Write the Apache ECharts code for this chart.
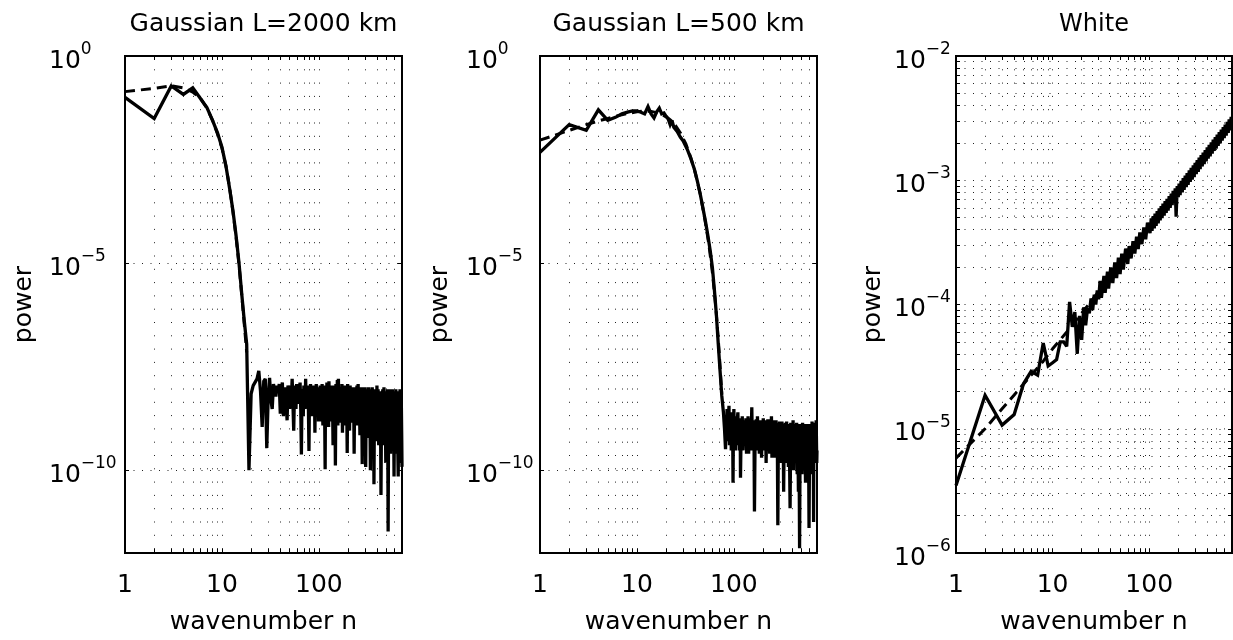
<!DOCTYPE html>
<html>
<head>
<meta charset="utf-8">
<title>Power spectra</title>
<script src="https://cdn.jsdelivr.net/npm/echarts@6/dist/echarts.min.js"></script>
<style>
  html, body { margin: 0; padding: 0; background: #fff; }
  #chart { width: 1233px; height: 640px; }
</style>
</head>
<body>
<div id="chart"></div>
<script>
// wavenumber axis: grid / tick positions and labelled ticks
var wavenumberTicks = [1, 2, 3, 4, 5, 6, 7, 8, 9, 10, 20, 30, 40, 50, 60, 70, 80, 90, 100, 200, 300, 400, 500, 600, 700];
var wavenumberLabels = [1, 10, 100];
var nMax = 720;

// power axis ticks
var wideTicks = [1, 1e-5, 1e-10];
var whiteTicks = [1e-2, 9e-3, 8e-3, 7e-3, 6e-3, 5e-3, 4e-3, 3e-3, 2e-3,
  1e-3, 9e-4, 8e-4, 7e-4, 6e-4, 5e-4, 4e-4, 3e-4, 2e-4,
  1e-4, 9e-5, 8e-5, 7e-5, 6e-5, 5e-5, 4e-5, 3e-5, 2e-5,
  1e-5, 9e-6, 8e-6, 7e-6, 6e-6, 5e-6, 4e-6, 3e-6, 2e-6, 1e-6];
var whiteLabels = [1e-2, 1e-3, 1e-4, 1e-5, 1e-6];

// Gaussian L=2000 km : [n, power]
var g2000Spectrum = [
  [1, 0.1], [2, 0.031], [3, 0.19], [4, 0.118], [5, 0.17], [6, 0.094], [7, 0.057], [8, 0.028],
  [9, 0.014], [10, 6.3e-3], [11, 2.2e-3], [12, 6.3e-4], [13, 1.8e-4], [14, 4.5e-5], [15, 1e-5],
  [16, 1.8e-6], [17, 4e-7], [18, 1.1e-7], [19, 1e-10], [20, 7e-9], [21, 1.1e-8], [22, 1.2e-8],
  [23, 1.6e-8], [24, 2.5e-8], [25, 8e-9], [26, 1.1e-9], [27, 1.4e-8], [28, 1.6e-8], [29, 3.4e-10],
  [30, 6e-9], [31, 1.7e-8], [32, 5e-9], [33, 3e-9], [34, 1.2e-8], [35, 1.3e-8], [36, 6e-9],
  [37, 1.1e-8], [38, 8e-9], [39, 1.2e-8], [40, 2.3e-9], [41, 9e-9], [42, 1.3e-8], [43, 2e-9], [44, 7e-9],
  [45, 1e-8], [46, 4e-9], [47, 1.6e-9], [48, 1.1e-8], [49, 9e-9], [50, 3e-9], [51, 1.1e-8], [52, 5e-9],
  [53, 1.6e-8], [54, 4e-9], [55, 9e-10], [56, 8e-9], [57, 1.1e-8], [58, 3e-9], [59, 1.2e-8], [60, 4e-9],
  [61, 1e-8], [62, 6e-9], [63, 1e-8], [64, 1.3e-8], [65, 3e-9], [66, 2.4e-10], [67, 9e-9], [68, 8e-9],
  [69, 2e-9], [70, 1.1e-8], [71, 5e-9], [72, 3e-9], [73, 1.6e-8], [74, 4e-9], [75, 1e-8], [76, 5e-9],
  [77, 1.1e-8], [78, 3e-9], [79, 2.9e-10], [80, 8e-9], [81, 2e-9], [82, 1.2e-8], [83, 2e-9], [84, 9e-9],
  [85, 3e-9], [86, 1e-8], [87, 4e-9], [88, 1.1e-8], [89, 2e-9], [90, 9e-9], [91, 8e-10], [92, 9e-9],
  [93, 3e-9], [94, 1.2e-8], [95, 2e-9], [96, 9e-9], [97, 4e-9], [98, 1e-8], [99, 1.5e-9],
  [100, 1e-8], [101, 2e-9], [103, 1.1e-8], [104, 1.5e-9], [105, 9e-9], [107, 2.5e-9], [108, 1.2e-8],
  [110, 1.2e-9], [111, 8e-9], [113, 2e-9], [114, 1.1e-8], [116, 1.05e-10], [117, 9e-9], [119, 1.8e-9],
  [121, 1.3e-8], [122, 2.5e-9], [124, 1e-8], [126, 1.1e-9], [127, 1.4e-8], [129, 2e-9], [131, 9e-9],
  [133, 1.5e-9], [135, 1.1e-8], [136, 3e-9], [138, 8e-9], [140, 4e-10], [142, 1.1e-8], [144, 1.8e-9],
  [146, 1e-8], [148, 1.3e-10], [150, 1.2e-8], [153, 2e-9], [155, 1.5e-8], [157, 1.2e-9], [159, 1.6e-8],
  [161, 2.5e-9], [163, 9e-9], [166, 1.4e-9], [168, 1e-8], [170, 2e-9], [173, 1.2e-8], [175, 8e-10],
  [178, 9e-9], [180, 1.6e-9], [183, 1.1e-8], [185, 2.2e-9], [188, 9e-9], [190, 1.2e-9], [193, 1e-8],
  [196, 2.6e-10], [198, 1.2e-8], [201, 1.8e-9], [204, 1e-8], [207, 9e-10], [210, 1.1e-8], [212, 2e-9],
  [215, 9e-9], [218, 1.4e-9], [221, 1e-8], [224, 2.5e-9], [228, 8e-9], [231, 2.5e-10], [234, 1e-8],
  [237, 1.6e-9], [240, 9e-9], [244, 2e-9], [247, 1.1e-8], [251, 1.2e-9], [254, 1.2e-8], [258, 1.8e-9],
  [261, 9e-9], [265, 7e-10], [268, 1e-8], [272, 1.5e-9], [276, 8e-9], [280, 1.4e-10], [284, 1e-8],
  [288, 1.3e-9], [292, 9e-9], [296, 2e-9], [300, 1e-8], [304, 1.2e-10], [308, 9e-9], [313, 1.1e-9],
  [317, 8e-9], [322, 6e-10], [326, 1e-8], [331, 1.5e-9], [335, 9e-9], [340, 1e-10], [345, 8e-9],
  [350, 1e-9], [355, 1e-8], [360, 5e-10], [365, 9e-9], [370, 4.6e-11], [375, 8e-9], [380, 1.2e-9],
  [386, 9e-9], [391, 5e-10], [397, 1.1e-8], [402, 8e-10], [408, 9e-9], [414, 4e-10], [419, 8e-9],
  [425, 1.2e-9], [431, 7e-9], [437, 2.5e-11], [444, 8e-9], [450, 6e-10], [456, 9e-9], [463, 4e-10],
  [469, 1e-8], [476, 9e-10], [483, 8e-9], [490, 1.5e-10], [497, 8e-9], [504, 6e-10], [511, 9e-9],
  [518, 3.3e-12], [525, 8e-9], [533, 8e-10], [540, 9e-9], [548, 2.5e-10], [556, 8e-9], [564, 7e-10],
  [572, 9e-9], [580, 4e-10], [588, 7e-9], [596, 7e-11], [605, 8e-9], [613, 5e-10], [622, 9e-9],
  [631, 2.5e-10], [640, 8e-9], [649, 6e-10], [658, 7e-11], [668, 8e-9], [677, 4e-10], [687, 9e-9],
  [697, 1.5e-10], [706, 9e-9], [716, 5e-10], [720, 1.2e-10]
];
var g2000Model = [
  [1, 0.138], [2, 0.165], [3, 0.19], [4, 0.17], [5, 0.135], [6, 0.095], [7, 0.055], [8, 0.028],
  [9, 0.013], [10, 6e-3], [11, 2.2e-3], [12, 6.6e-4], [13, 1.7e-4], [14, 4.2e-5], [15, 9e-6],
  [16, 1.7e-6], [17, 3.3e-7], [18, 7e-8]
];

// Gaussian L=500 km
var g500Spectrum = [
  [1, 4.7e-3], [2, 0.022], [3, 0.016], [4, 0.05], [5, 0.028], [6, 0.033], [7, 0.04], [8, 0.044],
  [9, 0.047], [10, 0.047], [11, 0.044], [12, 0.04], [13, 0.06], [14, 0.04], [15, 0.032], [16, 0.045],
  [17, 0.055], [18, 0.04], [19, 0.042], [20, 0.035], [21, 0.03], [22, 0.022], [23, 0.028], [24, 0.019],
  [25, 0.02], [26, 0.015], [28, 0.011], [30, 8.9e-3], [33, 5.6e-3], [36, 3.3e-3], [39, 1.9e-3],
  [42, 9.5e-4], [45, 4.6e-4], [48, 2.1e-4], [51, 1e-4], [54, 4.5e-5], [57, 2e-5], [60, 7.9e-6],
  [63, 2.2e-6], [66, 5.6e-7], [69, 1.1e-7], [72, 2.5e-8], [75, 6.3e-9], [78, 2.5e-9], [80, 1e-9],
  [82, 3.2e-10], [83, 1.5e-9], [84, 5e-10], [85, 3e-9], [86, 8e-10], [87, 6e-10], [88, 2e-9], [89, 3.6e-9],
  [90, 4e-10], [91, 8e-10], [92, 1.6e-9], [93, 2.5e-9], [94, 3e-10], [95, 4e-10], [96, 1.5e-9],
  [97, 1.8e-9], [98, 5e-11], [99, 1.4e-9],
  [100, 3e-9], [101, 5e-10], [103, 1.8e-9], [104, 3e-10], [105, 2e-9], [107, 4e-10], [108, 1.5e-9],
  [110, 2.5e-9], [111, 6e-10], [113, 1.6e-9], [114, 3e-10], [116, 1.8e-9], [117, 6.6e-11], [119, 1.5e-9],
  [121, 4e-10], [122, 2e-9], [124, 3e-10], [126, 1.4e-9], [127, 5e-10], [129, 1.6e-9], [131, 4e-10],
  [133, 1.8e-9], [135, 2.5e-10], [136, 1.5e-9], [138, 5e-10], [140, 2e-9], [142, 2.5e-10], [144, 1.4e-9],
  [146, 6e-10], [148, 1.8e-9], [150, 3e-10], [153, 3.3e-9], [155, 5e-10], [157, 1.5e-9], [159, 3e-10],
  [161, 1.6e-9], [163, 1e-11], [166, 1.5e-9], [168, 4e-10], [170, 1.7e-9], [173, 3e-10], [175, 2e-9],
  [178, 4e-10], [180, 1.4e-9], [183, 2.5e-10], [185, 1.6e-9], [188, 5e-10], [190, 1.5e-9], [193, 2e-10],
  [196, 1.6e-9], [198, 4e-10], [201, 1.8e-9], [204, 3e-10], [207, 1.4e-9], [210, 4e-10], [212, 1.6e-9],
  [215, 1.5e-10], [218, 1.5e-9], [221, 3.5e-10], [224, 1.7e-9], [228, 3e-10], [231, 1.4e-9],
  [234, 2.5e-10], [237, 1.7e-9], [240, 4e-10], [244, 2e-9], [247, 2e-10], [251, 1.5e-9], [254, 3e-10],
  [258, 1.6e-9], [261, 2e-10], [265, 1.4e-9], [268, 3e-10], [272, 1.6e-9], [276, 2e-10], [280, 1.3e-9],
  [284, 4.7e-12], [288, 1.4e-9], [292, 2.5e-10], [296, 1.5e-9], [300, 2e-10], [304, 1.3e-9],
  [308, 1.5e-10], [313, 1.5e-9], [317, 2.5e-10], [322, 1.3e-9], [326, 3e-11], [331, 1.2e-9], [335, 2e-10],
  [340, 1.4e-9], [345, 1.5e-10], [350, 1.5e-9], [355, 2e-10], [360, 1.2e-9], [365, 1.2e-10], [370, 1.3e-9],
  [375, 2e-10], [380, 1.2e-11], [386, 1.4e-9], [391, 2e-10], [397, 1.3e-9], [402, 1.5e-10], [408, 1.6e-9],
  [414, 1e-10], [419, 1.2e-9], [425, 2e-10], [431, 1.3e-9], [437, 1.5e-10], [444, 1.4e-9], [450, 8e-11],
  [456, 1.2e-9], [463, 3e-11], [469, 1.3e-9], [476, 1.3e-12], [483, 1.2e-9], [490, 1.5e-10], [497, 1.3e-9],
  [504, 8e-11], [511, 1.4e-9], [518, 2e-10], [525, 1.2e-9], [533, 1.5e-10], [540, 1.3e-9], [548, 5e-11],
  [556, 1.2e-9], [564, 2e-10], [572, 1.3e-9], [580, 1e-10], [588, 1.2e-9], [596, 4e-12], [605, 1.3e-9],
  [613, 1.5e-10], [622, 1.2e-9], [631, 8e-11], [640, 1.5e-9], [649, 2e-10], [658, 1.2e-9], [664, 5.6e-12],
  [668, 1.3e-9], [677, 1.5e-10], [687, 1.4e-9], [697, 2e-10], [706, 1.6e-9], [716, 1.5e-10], [720, 3e-10]
];
var g500Model = [
  [1, 9.3e-3], [2, 0.016], [3, 0.022], [4, 0.027], [5, 0.031], [6, 0.035], [8, 0.041], [10, 0.045],
  [12, 0.047], [14, 0.046], [16, 0.043], [18, 0.039], [20, 0.034], [22, 0.029], [25, 0.021],
  [28, 0.014], [32, 7.5e-3], [36, 3.5e-3], [40, 1.5e-3], [45, 4.6e-4], [50, 1.2e-4], [55, 3e-5],
  [60, 6e-6], [65, 9e-7], [70, 9e-8], [75, 7e-9]
];

// White
var whiteSpectrum = [
  [1, 3.5e-6], [2, 1.86e-5], [3, 1.07e-5], [4, 1.3e-5], [5, 2.3e-5], [6, 2.9e-5], [7, 2.7e-5],
  [8, 4.9e-5], [9, 3.2e-5], [10, 3.4e-5], [11, 3.6e-5], [12, 5e-5], [13, 5e-5], [14, 4.6e-5],
  [15, 1.05e-4], [16, 6.6e-5], [17, 8.7e-5], [18, 4e-5], [19, 8.1e-5], [20, 5.2e-5], [21, 9.5e-5],
  [22, 6.8e-5], [23, 9.3e-5], [24, 8.5e-5], [25, 1.12e-4], [26, 9e-5], [27, 1.2e-4], [28, 1.0e-4],
  [29, 1.3e-4], [30, 1.1e-4], [31, 1.55e-4], [32, 1.13e-4], [34, 1.7e-4], [35, 1.24e-4], [37, 1.84e-4],
  [38, 1.34e-4], [40, 1.99e-4], [42, 1.49e-4], [44, 2.18e-4], [46, 1.63e-4], [48, 2.38e-4], [50, 1.76e-4],
  [52, 2.57e-4], [54, 1.91e-4], [57, 2.82e-4], [60, 2.12e-4], [62, 2.95e-4], [65, 2.35e-4], [68, 3.24e-4],
  [71, 2.57e-4], [74, 3.52e-4], [77, 2.79e-4], [80, 3.8e-4], [84, 3.06e-4], [88, 4.18e-4], [92, 3.35e-4],
  [96, 4.55e-4], [100, 4.68e-4], [102, 3.76e-4], [105, 4.93e-4], [107, 3.91e-4], [110, 5.15e-4],
  [113, 4.1e-4], [115, 5.4e-4], [118, 4.3e-4], [121, 5.65e-4], [124, 4.5e-4], [127, 5.95e-4],
  [130, 4.75e-4], [133, 6.2e-4], [136, 4.95e-4], [139, 6.5e-4], [143, 5.2e-4], [146, 6.8e-4],
  [150, 5.45e-4], [153, 7.1e-4], [157, 5.7e-4], [161, 7.45e-4], [165, 6.0e-4], [169, 7.8e-4],
  [173, 6.3e-4], [177, 8.2e-4], [181, 6.6e-4], [186, 8.6e-4], [190, 5.1e-4], [195, 9.0e-4],
  [200, 7.3e-4], [204, 9.4e-4], [209, 7.6e-4], [214, 9.9e-4], [220, 8.0e-4], [225, 1.04e-3],
  [230, 8.35e-4], [236, 1.09e-3], [242, 8.8e-4], [247, 1.14e-3], [253, 9.2e-4], [260, 1.2e-3],
  [266, 9.7e-4], [272, 1.26e-3], [279, 1.01e-3], [286, 1.32e-3], [292, 1.06e-3], [299, 1.38e-3],
  [307, 1.12e-3], [314, 1.45e-3], [322, 1.17e-3], [329, 1.52e-3], [337, 1.23e-3], [345, 1.59e-3],
  [354, 1.29e-3], [362, 1.67e-3], [371, 1.35e-3], [380, 1.75e-3], [389, 1.42e-3], [399, 1.84e-3],
  [408, 1.49e-3], [418, 1.93e-3], [428, 1.56e-3], [439, 2.02e-3], [449, 1.64e-3], [460, 2.12e-3],
  [471, 1.72e-3], [483, 2.22e-3], [494, 1.8e-3], [506, 2.33e-3], [518, 1.89e-3], [531, 2.44e-3],
  [544, 1.98e-3], [557, 2.56e-3], [570, 2.08e-3], [584, 2.68e-3], [598, 2.18e-3], [612, 2.81e-3],
  [627, 2.29e-3], [642, 2.95e-3], [658, 2.4e-3], [673, 3.09e-3], [690, 2.52e-3], [706, 3.24e-3],
  [720, 2.63e-3]
];
var whiteModel = [
  [1, 5.8e-6], [2, 1.0e-5], [3, 1.45e-5], [4, 1.87e-5], [6, 2.7e-5], [8, 3.5e-5], [10, 4.4e-5],
  [15, 6.4e-5], [20, 8.5e-5], [30, 1.27e-4], [50, 2.1e-4], [100, 4.2e-4], [200, 8.4e-4],
  [400, 1.67e-3], [720, 3e-3]
];

var FONT = 'DejaVu Sans';

function powerLabel(value) {
  var e = Math.round(Math.log10(value));
  return '{b|10}{s|' + (e < 0 ? '\u2212' + (-e) : e) + '}';
}

var panels = [
  { left: 125, width: 277, title: 'Gaussian L=2000 km', titleSize: 25, titleTop: 12,
    yMin: 1e-12, yMax: 1, yTicks: wideTicks, yLabels: wideTicks,
    labelMargin: 76, nameGap: 88, solid: g2000Spectrum, model: g2000Model },
  { left: 540, width: 277, title: 'Gaussian L=500 km', titleSize: 25, titleTop: 12,
    yMin: 1e-12, yMax: 1, yTicks: wideTicks, yLabels: wideTicks,
    labelMargin: 74, nameGap: 87, solid: g500Spectrum, model: g500Model },
  { left: 956, width: 276, title: 'White', titleSize: 24, titleTop: 13,
    yMin: 1e-6, yMax: 1e-2, yTicks: whiteTicks, yLabels: whiteLabels,
    labelMargin: 62, nameGap: 70, solid: whiteSpectrum, model: whiteModel }
];

var grids = [], xAxes = [], yAxes = [], series = [], titles = [];

panels.forEach(function (p, i) {
  grids.push({
    left: p.left, top: 56, width: p.width, height: 507,
    show: true, borderColor: '#000', borderWidth: 2, backgroundColor: '#fff'
  });

  titles.push({
    text: p.title, left: p.left + p.width / 2, top: p.titleTop, textAlign: 'center', padding: 0,
    textStyle: { fontFamily: FONT, fontSize: p.titleSize, fontWeight: 'normal', color: '#000' }
  });

  // bottom axis with labels + dotted grid, top axis only for the ticks
  xAxes.push({
    type: 'log', logBase: 10, gridIndex: i, min: 1, max: nMax, position: 'bottom',
    name: 'wavenumber n', nameLocation: 'middle', nameGap: 57,
    nameTextStyle: { fontFamily: FONT, fontSize: 25, color: '#000' },
    axisLine: { show: true, onZero: false, lineStyle: { color: '#000', width: 2 } },
    axisTick: { show: true, inside: true, length: 4, customValues: wavenumberTicks,
      lineStyle: { color: '#000', width: 1 } },
    axisLabel: { customValues: wavenumberLabels, margin: 20, fontFamily: FONT, fontSize: 25, color: '#000' },
    splitLine: { show: true, lineStyle: { color: '#222', width: 1, type: [1, 12.3] } }
  });
  xAxes.push({
    type: 'log', logBase: 10, gridIndex: i, min: 1, max: nMax, position: 'top',
    axisLine: { show: true, onZero: false, lineStyle: { color: '#000', width: 2 } },
    axisTick: { show: true, inside: true, length: 4, customValues: wavenumberTicks,
      lineStyle: { color: '#000', width: 1 } },
    axisLabel: { show: false },
    splitLine: { show: false }
  });

  var labelRich = {
    b: { fontFamily: FONT, fontSize: 25, lineHeight: 40, color: '#000' },
    s: { fontFamily: FONT, fontSize: 17, lineHeight: 14, verticalAlign: 'top', color: '#000' }
  };
  yAxes.push({
    type: 'log', logBase: 10, gridIndex: i, min: p.yMin, max: p.yMax, position: 'left',
    name: 'power', nameLocation: 'middle', nameGap: p.nameGap,
    nameTextStyle: { fontFamily: FONT, fontSize: 25, color: '#000' },
    axisLine: { show: true, onZero: false, lineStyle: { color: '#000', width: 2 } },
    axisTick: { show: true, inside: true, length: 4, customValues: p.yTicks,
      lineStyle: { color: '#000', width: 1 } },
    axisLabel: { customValues: p.yLabels, formatter: powerLabel, align: 'left',
      margin: p.labelMargin, padding: [10, 0, 0, 0], rich: labelRich },
    splitLine: { show: true, lineStyle: { color: '#222', width: 1, type: [1, 7.5] } }
  });
  yAxes.push({
    type: 'log', logBase: 10, gridIndex: i, min: p.yMin, max: p.yMax, position: 'right',
    axisLine: { show: true, onZero: false, lineStyle: { color: '#000', width: 2 } },
    axisTick: { show: true, inside: true, length: 4, customValues: p.yTicks,
      lineStyle: { color: '#000', width: 1 } },
    axisLabel: { show: false },
    splitLine: { show: false }
  });

  series.push({
    type: 'line', xAxisIndex: 2 * i, yAxisIndex: 2 * i, data: p.model,
    symbol: 'none', silent: true, z: 3,
    lineStyle: { color: '#000', width: 3, type: [10, 6] }
  });
  series.push({
    type: 'line', xAxisIndex: 2 * i, yAxisIndex: 2 * i, data: p.solid,
    symbol: 'none', silent: true, z: 4,
    lineStyle: { color: '#000', width: 3.3, join: 'miter', miterLimit: 3 }
  });
});

var chart = echarts.init(document.getElementById('chart'));
chart.setOption({
  backgroundColor: '#fff',
  animation: false,
  title: titles,
  grid: grids,
  xAxis: xAxes,
  yAxis: yAxes,
  series: series
});
</script>
</body>
</html>
